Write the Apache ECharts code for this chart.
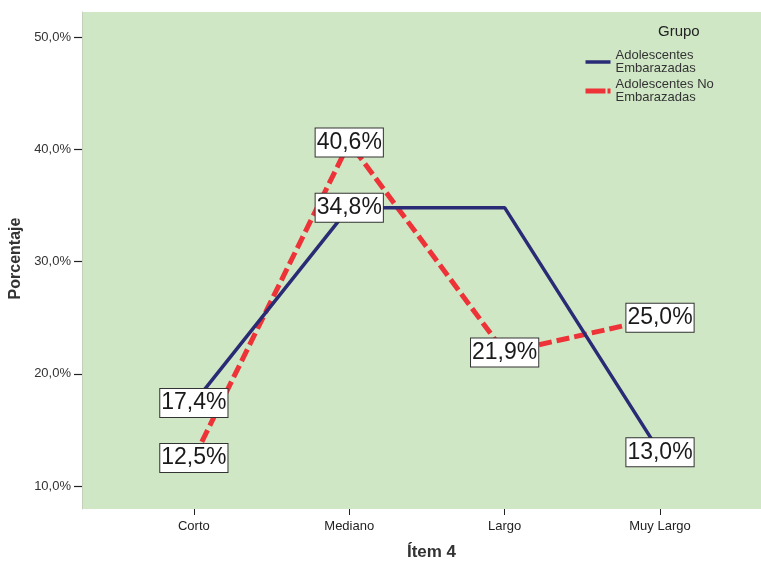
<!DOCTYPE html>
<html>
<head>
<meta charset="utf-8">
<title>Ítem 4</title>
<script src="https://cdn.jsdelivr.net/npm/echarts@6/dist/echarts.min.js"></script>
<style>
  html, body { margin: 0; padding: 0; background: #fff; }
  #chart { width: 761px; height: 562px; }
</style>
</head>
<body>
<div id="chart"></div>
<script>
// Categories of "Ítem 4"
var categories = ['Corto', 'Mediano', 'Largo', 'Muy Largo'];
// Percentages per group
var embarazadas = [17.4, 34.8, 34.8, 13.0];
var noEmbarazadas = [12.5, 40.6, 21.9, 25.0];
// Which points carry a value label (the Largo one repeats Mediano and is left unlabelled)
var embarazadasLabelled = [true, true, false, true];
var noEmbarazadasLabelled = [true, true, true, true];
// Y tick values
var yTicks = [10, 20, 30, 40, 50];
var seriesNames = ['Adolescentes Embarazadas', 'Adolescentes No Embarazadas'];

var BLUE = '#292c74';
var RED = '#ee3338';

function fmtPct(v) {
  return v.toFixed(1).replace('.', ',') + '%';
}
function points(values, labelled) {
  return values.map(function (v, i) {
    return { value: [i, v], label: { show: labelled[i] } };
  });
}

var labelStyle = {
  show: true,
  position: 'inside',
  formatter: function (p) { return fmtPct(p.value[1]); },
  fontFamily: 'Liberation Sans, Arial, sans-serif',
  fontSize: 23,
  lineHeight: 24,
  color: '#1a1a1a',
  backgroundColor: '#ffffff',
  borderColor: '#333333',
  borderWidth: 1,
  padding: [3, 1, 1, 1]
};

var chart = echarts.init(document.getElementById('chart'), null, { renderer: 'canvas' });
chart.setOption({
  animation: false,
  textStyle: { fontFamily: 'Liberation Sans, Arial, sans-serif' },
  title: {
    text: 'Grupo',
    left: 653,
    top: 19,
    textStyle: { fontSize: 15, fontWeight: 'normal', color: '#222' }
  },
  legend: {
    orient: 'vertical',
    left: 578,
    top: 44,
    itemWidth: 25,
    itemHeight: 10,
    itemGap: 3,
    data: [
      { name: seriesNames[0], lineStyle: { width: 3.5, color: BLUE } },
      { name: seriesNames[1], lineStyle: { width: 5, color: RED, type: [20, 2, 3, 4] } }
    ],
    itemStyle: { opacity: 0 },
    formatter: function (name) { return name.replace(/ (Embarazadas)$/, '\n$1'); },
    textStyle: { fontSize: 13, color: '#333', lineHeight: 13 }
  },
  grid: {
    left: 82, right: 0, top: 12, bottom: 53,
    outerBoundsMode: 'none',
    containLabel: false,
    show: true,
    backgroundColor: '#d0e7c6',
    borderWidth: 0
  },
  xAxis: {
    type: 'value',
    min: -0.72,
    max: 3.65,
    name: 'Ítem 4',
    nameLocation: 'middle',
    nameGap: 35,
    nameTextStyle: { fontSize: 17, fontWeight: 'bold', color: '#333', padding: [0, 0, 0, 20] },
    splitLine: { show: false },
    axisLine: { show: false, onZero: false },
    axisTick: {
      show: true,
      customValues: [0, 1, 2, 3],
      length: 6,
      lineStyle: { color: '#222', width: 1 }
    },
    axisLabel: {
      customValues: [0, 1, 2, 3],
      formatter: function (v) { return categories[Math.round(v)]; },
      fontSize: 13,
      color: '#222',
      margin: 11
    }
  },
  yAxis: {
    type: 'value',
    min: 7.95,
    max: 52.23,
    name: 'Porcentaje',
    nameLocation: 'middle',
    nameGap: 53,
    nameTextStyle: { fontSize: 16, fontWeight: 'bold', color: '#333', padding: [0, 0, 0, 4] },
    splitLine: { show: false },
    axisLine: { show: true, onZero: false, lineStyle: { color: '#c2cfbb', width: 1 } },
    axisTick: {
      show: true,
      customValues: yTicks,
      length: 8,
      lineStyle: { color: '#222', width: 1.2 }
    },
    axisLabel: {
      customValues: yTicks,
      formatter: function (v) { return fmtPct(v); },
      fontSize: 13,
      color: '#333',
      margin: 11
    }
  },
  series: [
    {
      name: seriesNames[0],
      type: 'line',
      data: points(embarazadas, embarazadasLabelled),
      symbol: 'circle',
      symbolSize: 1,
      itemStyle: { color: BLUE },
      lineStyle: { color: BLUE, width: 3.5 },
      label: labelStyle,
      z: 3
    },
    {
      name: seriesNames[1],
      type: 'line',
      data: points(noEmbarazadas, noEmbarazadasLabelled),
      symbol: 'circle',
      symbolSize: 1,
      itemStyle: { color: RED },
      lineStyle: { color: RED, width: 5, type: [13, 5] },
      label: labelStyle,
      z: 2
    }
  ]
});
</script>
</body>
</html>
